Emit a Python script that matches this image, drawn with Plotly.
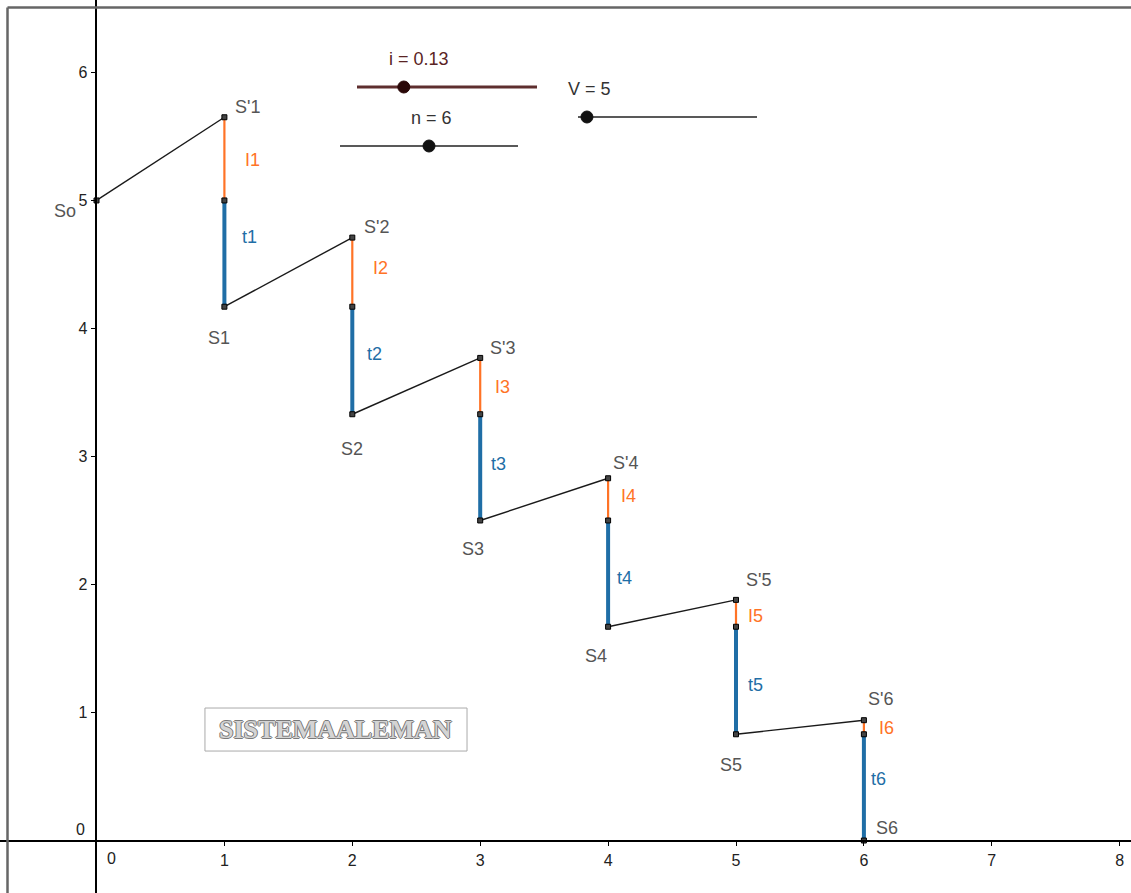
import plotly.graph_objects as go

# ---------------- data ----------------
periods = [0, 1, 2, 3, 4, 5, 6]
balance = [5, 4.17, 3.33, 2.5, 1.67, 0.83, 0]          # S0..S6
peak = [5.65, 4.71, 3.77, 2.83, 1.88, 0.94]            # S'1..S'6 (at x = 1..6)
s_labels = ["So", "S1", "S2", "S3", "S4", "S5", "S6"]
sp_labels = ["S'1", "S'2", "S'3", "S'4", "S'5", "S'6"]
i_labels = ["I1", "I2", "I3", "I4", "I5", "I6"]
t_labels = ["t1", "t2", "t3", "t4", "t5", "t6"]
x_ticks = [1, 2, 3, 4, 5, 6, 7, 8]
y_ticks = [1, 2, 3, 4, 5, 6]
rate_i = 0.13
n_periods = 6
capital_v = 5
title_text = "SISTEMAALEMAN"

# ---------------- styling / layout ----------------
W, H = 1131, 893
XR = [-0.7545, 8.0884]
YR = [-0.410, 6.566]
FONT = "Liberation Sans, Arial, sans-serif"
BLACK = "#1a1a1a"
ORANGE = "#ff7326"
BLUE = "#1f6ea6"
GREY = "#555555"

# label pixel offsets (dx right, dy down)
s_off = [(-32, 11), (-5, 31), (0, 35), (-7, 29), (-12, 29), (-5, 31), (23, -13)]
sp_off = [(23, -10), (24, -11), (22, -10), (17, -15), (22, -20), (17, -21)]
i_off = [(28, 1), (28, -4), (22, 1), (20, -3), (19, 3), (23, 1)]
t_off = [(25, -17), (22, -6), (18, -3), (16, 4), (19, 4), (15, -8)]


def px(x):
    return x / W


def py(y):
    return 1 - y / H


fig = go.Figure()

# black connecting lines S_{k-1} -> S'_k
for k in range(1, len(periods)):
    fig.add_trace(go.Scatter(x=[periods[k - 1], periods[k]], y=[balance[k - 1], peak[k - 1]],
                             mode="lines", line=dict(color=BLACK, width=1.4),
                             hoverinfo="skip", showlegend=False))
# orange interest segments and blue amortization segments
for k in range(1, len(periods)):
    fig.add_trace(go.Scatter(x=[periods[k], periods[k]], y=[peak[k - 1], balance[k - 1]],
                             mode="lines", line=dict(color=ORANGE, width=2.2),
                             hoverinfo="skip", showlegend=False))
    fig.add_trace(go.Scatter(x=[periods[k], periods[k]], y=[balance[k - 1], balance[k]],
                             mode="lines", line=dict(color=BLUE, width=4),
                             hoverinfo="skip", showlegend=False))
# points
pts_x = [periods[0]] + [periods[k] for k in range(1, len(periods)) for _ in range(3)]
pts_y = [balance[0]] + [v for k in range(1, len(periods)) for v in (peak[k - 1], balance[k - 1], balance[k])]
fig.add_trace(go.Scatter(x=pts_x, y=pts_y, mode="markers",
                         marker=dict(symbol="square", size=5, color="#444444",
                                     line=dict(color="black", width=1)),
                         hoverinfo="skip", showlegend=False))

ann = []


def label(x, y, text, color, off, size=18):
    ann.append(dict(x=x, y=y, xref="x", yref="y", text=text, showarrow=False,
                    xanchor="center", yanchor="middle",
                    xshift=off[0], yshift=-off[1],
                    font=dict(family=FONT, size=size, color=color)))


for k in range(len(periods)):
    label(periods[k], balance[k], s_labels[k], GREY, s_off[k])
for k in range(1, len(periods)):
    label(periods[k], peak[k - 1], sp_labels[k - 1], GREY, sp_off[k - 1])
    label(periods[k], (peak[k - 1] + balance[k - 1]) / 2, i_labels[k - 1], ORANGE, i_off[k - 1])
    label(periods[k], (balance[k - 1] + balance[k]) / 2, t_labels[k - 1], BLUE, t_off[k - 1])

# zero tick labels (GeoGebra style)
ann.append(dict(x=0, y=0, xref="x", yref="y", text="0", showarrow=False, xshift=15, yshift=-18,
                xanchor="center", yanchor="middle", font=dict(family=FONT, size=16, color="#222")))
ann.append(dict(x=0, y=0, xref="x", yref="y", text="0", showarrow=False, xshift=-16, yshift=11,
                xanchor="center", yanchor="middle", font=dict(family=FONT, size=16, color="#222")))

shapes = []
# frame
shapes.append(dict(type="line", xref="paper", yref="paper", x0=px(7.5), x1=1.01, y0=py(7.5), y1=py(7.5),
                   line=dict(color="#666", width=2.5)))
shapes.append(dict(type="line", xref="paper", yref="paper", x0=px(7.5), x1=px(7.5), y0=py(7.5), y1=-0.01,
                   line=dict(color="#666", width=2.5)))

# SISTEMAALEMAN box
bx0, bx1, by0, by1 = 0.848, 2.897, 0.699, 1.035
shapes.append(dict(type="rect", xref="x", yref="y", x0=bx0, x1=bx1, y0=by0, y1=by1,
                   line=dict(color="#aaaaaa", width=1), fillcolor="white", layer="below"))
serif = "Liberation Serif, Times New Roman, serif"
for (dx, dy) in [(-1, 0), (1, 0), (0, -1), (0, 1)]:
    ann.append(dict(x=(bx0 + bx1) / 2, y=(by0 + by1) / 2, xref="x", yref="y", text="<b>" + title_text + "</b>",
                    showarrow=False, xanchor="center", yanchor="middle", xshift=dx, yshift=dy,
                    font=dict(family=serif, size=26, color="#7a7a7a")))
ann.append(dict(x=(bx0 + bx1) / 2, y=(by0 + by1) / 2, xref="x", yref="y", text="<b>" + title_text + "</b>",
                showarrow=False, xanchor="center", yanchor="middle",
                font=dict(family=serif, size=26, color="#d4d4d4")))

# sliders: (label, value, min, max, x_start_px, x_end_px, y_px, line colour, line width, knob colour, label pos, label colour)
sliders = [
    ("i = 0.13", rate_i, 0, 0.5, 357, 537, 87, "#5e2e2e", 3, "#2a0808", (419, 59), "#5a2424"),
    ("n = 6", n_periods, 1, 11, 340, 518, 146, "#222222", 1.5, "#111111", (432, 118), "#333333"),
    ("V = 5", capital_v, 0, 100, 578, 757, 117, "#222222", 1.5, "#111111", (589, 89), "#333333"),
]
for (txt, val, lo, hi, xa, xb, yy, lc, lw, kc, lp, tc) in sliders:
    shapes.append(dict(type="line", xref="paper", yref="paper", x0=px(xa), x1=px(xb), y0=py(yy), y1=py(yy),
                       line=dict(color=lc, width=lw)))
    kx = xa + (val - lo) / (hi - lo) * (xb - xa)
    r = 6
    shapes.append(dict(type="circle", xref="paper", yref="paper", x0=px(kx - r), x1=px(kx + r),
                       y0=py(yy + r), y1=py(yy - r), fillcolor=kc, line=dict(color=kc, width=1)))
    ann.append(dict(x=px(lp[0]), y=py(lp[1]), xref="paper", yref="paper", text=txt, showarrow=False,
                    xanchor="center", yanchor="middle",
                    font=dict(family=FONT, size=18, color=tc)))

xpos = (0 - YR[0]) / (YR[1] - YR[0])
ypos = (0 - XR[0]) / (XR[1] - XR[0])

fig.update_layout(
    width=W, height=H, autosize=False,
    margin=dict(l=0, r=0, t=0, b=0, pad=0),
    paper_bgcolor="white", plot_bgcolor="white",
    showlegend=False,
    xaxis=dict(range=XR, anchor="free", position=xpos, showgrid=False, zeroline=False,
               showline=True, linecolor="black", linewidth=1.6, ticks="outside", ticklen=5,
               tickcolor="black", tickwidth=1.2, tickvals=x_ticks,
               tickfont=dict(family=FONT, size=16, color="#222"), fixedrange=True),
    yaxis=dict(range=YR, anchor="free", position=ypos, showgrid=False, zeroline=False,
               showline=True, linecolor="black", linewidth=1.6, ticks="outside", ticklen=5,
               tickcolor="black", tickwidth=1.2, tickvals=y_ticks,
               tickfont=dict(family=FONT, size=16, color="#222"), fixedrange=True),
    shapes=shapes,
    annotations=ann,
)

fig.write_html("out.html", config={"displayModeBar": False},
               post_script="document.body.style.margin='0';document.body.style.overflow='hidden';")
